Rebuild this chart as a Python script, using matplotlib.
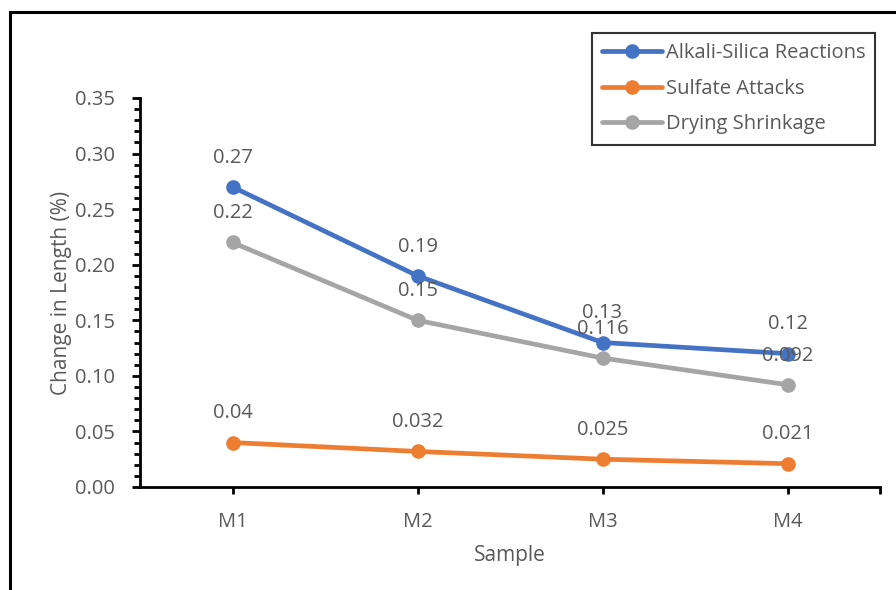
import matplotlib
matplotlib.use("Agg")
import matplotlib.pyplot as plt
from matplotlib.patches import Rectangle
from matplotlib.ticker import MultipleLocator, FixedLocator

plt.rcParams['font.family'] = ['Open Sans', 'DejaVu Sans']

samples = ["M1", "M2", "M3", "M4"]
asr = [0.27, 0.19, 0.13, 0.12]
sulfate = [0.04, 0.032, 0.025, 0.021]
drying = [0.22, 0.15, 0.116, 0.092]
asr_labels = ["0.27", "0.19", "0.13", "0.12"]
sulfate_labels = ["0.04", "0.032", "0.025", "0.021"]
drying_labels = ["0.22", "0.15", "0.116", "0.092"]
series_names = ["Alkali-Silica Reactions", "Sulfate Attacks", "Drying Shrinkage"]
colors = ["#4472C4", "#ED7D31", "#A5A5A5"]

W, H = 896, 590
fig = plt.figure(figsize=(W/100, H/100), dpi=100)
ax = fig.add_axes([140/W, 1-487/H, (880-140)/W, (487-98)/H])

tc = "#595959"
fs = 14.5
x = list(range(len(samples)))
lines = []
for vals, labs, col, name in [(asr, asr_labels, colors[0], series_names[0]),
                              (sulfate, sulfate_labels, colors[1], series_names[1]),
                              (drying, drying_labels, colors[2], series_names[2])]:
    ln, = ax.plot(x, vals, color=col, lw=3.4, marker='o', markersize=9.5,
                  solid_capstyle='round', label=name, zorder=3)
    lines.append(ln)
    for xi, v, t in zip(x, vals, labs):
        ax.annotate(t, (xi, v), xytext=(0, 21), textcoords='offset points',
                    ha='center', va='center', fontsize=fs, color=tc, zorder=4)

ax.set_xlim(-0.5, 3.5)
ax.set_ylim(0, 0.35)
ax.yaxis.set_major_locator(MultipleLocator(0.05))
ax.yaxis.set_minor_locator(MultipleLocator(0.01))
ax.set_yticklabels([f"{v:.2f}" for v in ax.get_yticks()])
ax.set_xticks(x)
ax.set_xticklabels(samples)
ax.xaxis.set_minor_locator(FixedLocator([3.5]))

for s in ["top", "right"]:
    ax.spines[s].set_visible(False)
for s in ["left", "bottom"]:
    ax.spines[s].set_linewidth(2.0)
    ax.spines[s].set_color("black")

ax.tick_params(axis='y', which='major', direction='out', length=6, width=2,
               pad=12, labelsize=fs, labelcolor=tc)
ax.tick_params(axis='y', which='minor', direction='out', length=4, width=2)
ax.tick_params(axis='x', which='major', direction='out', length=5, width=2,
               pad=13, labelsize=fs, labelcolor=tc)
ax.tick_params(axis='x', which='minor', direction='out', length=5, width=2)

ax.set_xlabel("Sample", fontsize=15, color=tc, labelpad=9)
ax.set_ylabel("Change in Length (%)", fontsize=15, color=tc, labelpad=2)

leg = fig.legend(handles=lines, labels=series_names, loc='upper left',
                 bbox_to_anchor=(592/W, 1-33/H), fontsize=fs,
                 frameon=True, fancybox=False, handlelength=3.0,
                 handletextpad=0.15, labelspacing=0.78, borderpad=0.5,
                 borderaxespad=0)
leg.get_frame().set_edgecolor("black")
leg.get_frame().set_linewidth(1.5)
for t in leg.get_texts():
    t.set_color(tc)

fig.patches.append(Rectangle((10/W, -0.1), 1.2, 1 - 12/H + 0.1,
                             transform=fig.transFigure, fill=False,
                             edgecolor='black', linewidth=2.2, zorder=10))

fig.savefig("out.png", dpi=100)
